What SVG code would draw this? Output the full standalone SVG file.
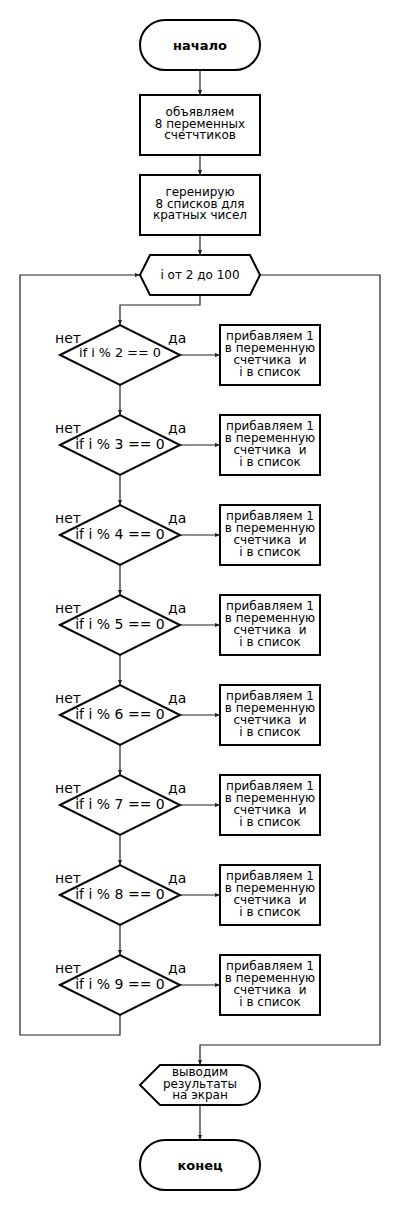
<svg xmlns="http://www.w3.org/2000/svg" width="400" height="1210" viewBox="0 0 400 1210">
<defs>
<marker id="ah" viewBox="0 0 10 10" refX="10" refY="5" markerWidth="5" markerHeight="5" orient="auto" markerUnits="userSpaceOnUse">
<path d="M0,1 L10,5 L0,9 z" fill="#222"/>
</marker>
<style>
.s{fill:#fff;stroke:#000;stroke-width:2}
.ca{fill:none;stroke:#222;stroke-width:1.2;marker-end:url(#ah)}
text{font-family:"DejaVu Sans",sans-serif;fill:#000;text-anchor:middle;white-space:pre}
.t{font-size:12px}
.b{font-size:13px;font-weight:bold}
.d{font-size:14px}
.l{font-size:14px;text-anchor:start}
</style>
</defs>
<rect width="400" height="1210" fill="#fff"/>
<g id="connectors">
<path class="ca" d="M200,70 V95"/>
<path class="ca" d="M200,155 V175"/>
<path class="ca" d="M200,235 V255"/>
<path class="ca" d="M200,295 V305 H120 V325"/>
<path class="ca" d="M120,385 V415"/>
<path class="ca" d="M120,475 V505"/>
<path class="ca" d="M120,565 V595"/>
<path class="ca" d="M120,655 V685"/>
<path class="ca" d="M120,745 V775"/>
<path class="ca" d="M120,835 V865"/>
<path class="ca" d="M120,925 V955"/>
<path class="ca" d="M180,355 H220"/>
<path class="ca" d="M180,445 H220"/>
<path class="ca" d="M180,535 H220"/>
<path class="ca" d="M180,625 H220"/>
<path class="ca" d="M180,715 H220"/>
<path class="ca" d="M180,805 H220"/>
<path class="ca" d="M180,895 H220"/>
<path class="ca" d="M180,985 H220"/>
<path class="ca" d="M120,1015 V1035 H20 V275 H140"/>
<path class="ca" d="M260,275 H380 V1045 H200 V1065"/>
<path class="ca" d="M200,1105 V1140"/>
</g>
<g id="start">
<rect class="s" x="140" y="20" width="120" height="50" rx="25"/>
<text class="b" x="200" y="49.5">начало</text>
</g>
<g id="declare">
<rect class="s" x="140" y="95" width="120" height="60"/>
<text class="t" x="200" y="116">объявляем</text>
<text class="t" x="200" y="127.7">8 переменных</text>
<text class="t" x="200" y="139.3">счетчтиков</text>
</g>
<g id="generate">
<rect class="s" x="140" y="175" width="120" height="60"/>
<text class="t" x="200" y="196">геренирую</text>
<text class="t" x="200" y="207.7">8 списков для</text>
<text class="t" x="200" y="219.3">кратных чисел</text>
</g>
<g id="loop">
<polygon class="s" points="140,275 150,255 250,255 260,275 250,295 150,295"/>
<text class="t" x="200" y="278.5">i от 2 до 100</text>
</g>
<g id="d2">
<polygon class="s" points="60,355 120,325 180,355 120,385"/>
<text x="120" y="357.2" style="font-size:12.8px">if i % 2 == 0</text>
<text class="l" x="55" y="342.7">нет</text>
<text class="l" x="168" y="342.7">да</text>
</g>
<g id="a2">
<rect class="s" x="220" y="325" width="100" height="60"/>
<text class="t" x="270" y="340">прибавляем 1</text>
<text class="t" x="270" y="352">в переменную</text>
<text class="t" x="270" y="364">счетчика  и</text>
<text class="t" x="270" y="376">i в список</text>
</g>
<g id="d3">
<polygon class="s" points="60,445 120,415 180,445 120,475"/>
<text class="d" x="120" y="448.5">if i % 3 == 0</text>
<text class="l" x="55" y="432.7">нет</text>
<text class="l" x="168" y="432.7">да</text>
</g>
<g id="a3">
<rect class="s" x="220" y="415" width="100" height="60"/>
<text class="t" x="270" y="430">прибавляем 1</text>
<text class="t" x="270" y="442">в переменную</text>
<text class="t" x="270" y="454">счетчика  и</text>
<text class="t" x="270" y="466">i в список</text>
</g>
<g id="d4">
<polygon class="s" points="60,535 120,505 180,535 120,565"/>
<text class="d" x="120" y="538.5">if i % 4 == 0</text>
<text class="l" x="55" y="522.7">нет</text>
<text class="l" x="168" y="522.7">да</text>
</g>
<g id="a4">
<rect class="s" x="220" y="505" width="100" height="60"/>
<text class="t" x="270" y="520">прибавляем 1</text>
<text class="t" x="270" y="532">в переменную</text>
<text class="t" x="270" y="544">счетчика  и</text>
<text class="t" x="270" y="556">i в список</text>
</g>
<g id="d5">
<polygon class="s" points="60,625 120,595 180,625 120,655"/>
<text class="d" x="120" y="628.5">if i % 5 == 0</text>
<text class="l" x="55" y="612.7">нет</text>
<text class="l" x="168" y="612.7">да</text>
</g>
<g id="a5">
<rect class="s" x="220" y="595" width="100" height="60"/>
<text class="t" x="270" y="610">прибавляем 1</text>
<text class="t" x="270" y="622">в переменную</text>
<text class="t" x="270" y="634">счетчика  и</text>
<text class="t" x="270" y="646">i в список</text>
</g>
<g id="d6">
<polygon class="s" points="60,715 120,685 180,715 120,745"/>
<text class="d" x="120" y="718.5">if i % 6 == 0</text>
<text class="l" x="55" y="702.7">нет</text>
<text class="l" x="168" y="702.7">да</text>
</g>
<g id="a6">
<rect class="s" x="220" y="685" width="100" height="60"/>
<text class="t" x="270" y="700">прибавляем 1</text>
<text class="t" x="270" y="712">в переменную</text>
<text class="t" x="270" y="724">счетчика  и</text>
<text class="t" x="270" y="736">i в список</text>
</g>
<g id="d7">
<polygon class="s" points="60,805 120,775 180,805 120,835"/>
<text class="d" x="120" y="808.5">if i % 7 == 0</text>
<text class="l" x="55" y="792.7">нет</text>
<text class="l" x="168" y="792.7">да</text>
</g>
<g id="a7">
<rect class="s" x="220" y="775" width="100" height="60"/>
<text class="t" x="270" y="790">прибавляем 1</text>
<text class="t" x="270" y="802">в переменную</text>
<text class="t" x="270" y="814">счетчика  и</text>
<text class="t" x="270" y="826">i в список</text>
</g>
<g id="d8">
<polygon class="s" points="60,895 120,865 180,895 120,925"/>
<text class="d" x="120" y="898.5">if i % 8 == 0</text>
<text class="l" x="55" y="882.7">нет</text>
<text class="l" x="168" y="882.7">да</text>
</g>
<g id="a8">
<rect class="s" x="220" y="865" width="100" height="60"/>
<text class="t" x="270" y="880">прибавляем 1</text>
<text class="t" x="270" y="892">в переменную</text>
<text class="t" x="270" y="904">счетчика  и</text>
<text class="t" x="270" y="916">i в список</text>
</g>
<g id="d9">
<polygon class="s" points="60,985 120,955 180,985 120,1015"/>
<text class="d" x="120" y="988.5">if i % 9 == 0</text>
<text class="l" x="55" y="972.7">нет</text>
<text class="l" x="168" y="972.7">да</text>
</g>
<g id="a9">
<rect class="s" x="220" y="955" width="100" height="60"/>
<text class="t" x="270" y="970">прибавляем 1</text>
<text class="t" x="270" y="982">в переменную</text>
<text class="t" x="270" y="994">счетчика  и</text>
<text class="t" x="270" y="1006">i в список</text>
</g>
<g id="output">
<path class="s" d="M140,1085 L160,1065 H240 A20,20 0 0 1 240,1105 H160 Z"/>
<text class="t" x="200" y="1075.7">выводим</text>
<text class="t" x="200" y="1087.5">результаты</text>
<text class="t" x="200" y="1099.3">на экран</text>
</g>
<g id="end">
<rect class="s" x="140" y="1140" width="120" height="50" rx="25"/>
<text class="b" x="200" y="1169.5">конец</text>
</g>
</svg>
